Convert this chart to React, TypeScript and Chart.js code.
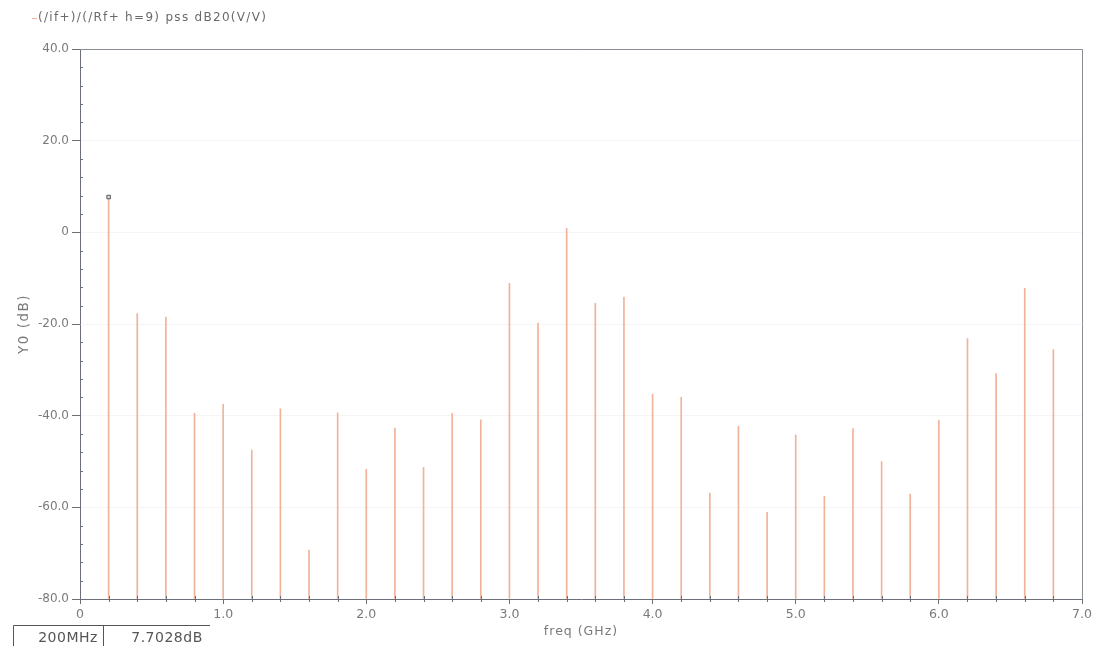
import React, { useEffect, useRef } from 'react';
import { Chart, registerables } from 'chart.js';

Chart.register(...registerables);

// Harmonic frequencies (GHz) of the PSS output spectrum
const harmonicFreqGHz = [
  0.2, 0.4, 0.6, 0.8, 1.0, 1.2, 1.4, 1.6, 1.8, 2.0, 2.2, 2.4, 2.6, 2.8, 3.0, 3.2, 3.4,
  3.6, 3.8, 4.0, 4.2, 4.4, 4.6, 4.8, 5.0, 5.2, 5.4, 5.6, 5.8, 6.0, 6.2, 6.4, 6.6, 6.8,
];

// Level of each harmonic (dB20 V/V)
const harmonicLevelDb = [
  7.7028, -17.7, -18.5, -39.5, -37.5, -47.5, -38.5, -69.3, -39.4, -51.7, -42.7, -51.3, -39.5, -40.9, -11.1, -19.8, 0.9,
  -15.5, -14.1, -35.3, -36.0, -56.9, -42.3, -61.1, -44.2, -57.6, -42.8, -50.0, -57.1, -41.0, -23.2, -30.8, -12.2, -25.6,
];

// Marker readout
const markerFreqGHz = [0.2];
const markerLevelDb = [7.7028];
const markerFreqText = '200MHz';
const markerLevelText = '7.7028dB';

const traceName = '(/if+)/(/Rf+ h=9) pss dB20(V/V)';
const xTitle = 'freq (GHz)';
const yTitle = 'Y0 (dB)';

const X_MIN = 0;
const X_MAX = 7;
const Y_MIN = -80;
const Y_MAX = 40;

const STEM_COLOR = '#f0b39a';
const AXIS_COLOR = '#6b6f7a';
const TEXT_COLOR = '#7a7a7a';
const FONT = '"DejaVu Sans", Verdana, sans-serif';

const fmt = (v: number) => (v === 0 ? '0' : v.toFixed(1));

// Frame, minor ticks, axis titles, trace legend and marker readout box
const decorations = {
  id: 'decorations',
  afterDraw(chart: any) {
    const { ctx, chartArea } = chart;
    const xs = chart.scales.x;
    const ys = chart.scales.y;
    const { left, right, top, bottom } = chartArea;
    ctx.save();

    // top and right frame
    ctx.strokeStyle = '#8a8d94';
    ctx.lineWidth = 1;
    ctx.beginPath();
    ctx.moveTo(left, top + 0.5);
    ctx.lineTo(right + 0.5, top + 0.5);
    ctx.lineTo(right + 0.5, bottom);
    ctx.stroke();

    // minor ticks on the y axis (every 4 dB)
    ctx.strokeStyle = AXIS_COLOR;
    ctx.beginPath();
    for (let v = Y_MIN + 4; v < Y_MAX; v += 4) {
      if (v % 20 === 0) continue;
      const y = Math.round(ys.getPixelForValue(v)) + 0.5;
      ctx.moveTo(left, y);
      ctx.lineTo(left + 3, y);
    }
    ctx.stroke();

    // minor ticks on the x axis (every 0.2 GHz)
    ctx.beginPath();
    for (let i = 1; i < 35; i++) {
      if (i % 5 === 0) continue;
      const x = Math.round(xs.getPixelForValue(i * 0.2)) + 0.5;
      ctx.moveTo(x, bottom - 3);
      ctx.lineTo(x, bottom + 3);
    }
    ctx.stroke();

    // axis titles
    ctx.fillStyle = TEXT_COLOR;
    ctx.textBaseline = 'middle';
    ctx.textAlign = 'center';
    ctx.font = `12.5px ${FONT}`;
    (ctx as any).letterSpacing = '1px';
    ctx.fillText(xTitle, (left + right) / 2, 632);
    ctx.save();
    ctx.translate(24, ys.getPixelForValue(-20));
    ctx.rotate(-Math.PI / 2);
    ctx.font = `13.5px ${FONT}`;
    (ctx as any).letterSpacing = '1.5px';
    ctx.fillText(yTitle, 0, 0);
    ctx.restore();

    // trace legend
    ctx.strokeStyle = STEM_COLOR;
    ctx.beginPath();
    ctx.moveTo(32, 18.5);
    ctx.lineTo(37, 18.5);
    ctx.stroke();
    ctx.font = `12px ${FONT}`;
    (ctx as any).letterSpacing = '1.3px';
    ctx.fillStyle = '#6a6a6a';
    ctx.textAlign = 'left';
    ctx.fillText(traceName, 38, 18);

    // marker readout box
    (ctx as any).letterSpacing = '0.5px';
    ctx.strokeStyle = '#555';
    ctx.beginPath();
    ctx.moveTo(13.5, 646);
    ctx.lineTo(13.5, 625.5);
    ctx.lineTo(210, 625.5);
    ctx.moveTo(103.5, 625.5);
    ctx.lineTo(103.5, 646);
    ctx.stroke();
    ctx.fillStyle = '#555';
    ctx.textAlign = 'center';
    ctx.font = `14px ${FONT}`;
    ctx.fillText(markerFreqText, 68, 638);
    ctx.fillText(markerLevelText, 167, 638);

    ctx.restore();
  },
};

export default function App() {
  const canvasRef = useRef<HTMLCanvasElement | null>(null);

  useEffect(() => {
    document.body.style.margin = '0';
    const canvas = canvasRef.current;
    if (!canvas) return;

    const chart = new Chart(canvas, {
      type: 'bar',
      data: {
        datasets: [
          {
            type: 'scatter',
            label: 'marker',
            data: markerFreqGHz.map((f, i) => ({ x: f, y: markerLevelDb[i] })),
            pointStyle: 'rect',
            pointRadius: 2.5,
            borderColor: '#5a5a5a',
            backgroundColor: '#d8d8d8',
            borderWidth: 1,
          } as any,
          {
            type: 'bar',
            label: traceName,
            data: harmonicFreqGHz.map((f, i) => ({ x: f, y: harmonicLevelDb[i] })),
            base: Y_MIN,
            barThickness: 1,
            grouped: false,
            backgroundColor: STEM_COLOR,
            borderWidth: 0,
          } as any,
        ],
      },
      options: {
        responsive: false,
        animation: false,
        events: [],
        layout: { padding: { left: 0, right: 18, top: 49, bottom: 0 } },
        plugins: {
          legend: { display: false },
          tooltip: { enabled: false },
        },
        scales: {
          x: {
            type: 'linear',
            min: X_MIN,
            max: X_MAX,
            offset: false,
            afterFit: (s: any) => {
              s.height = 47;
            },
            grid: {
              offset: false,
              drawOnChartArea: false,
              tickLength: 5,
              tickColor: AXIS_COLOR,
            },
            border: { display: true, color: AXIS_COLOR, width: 1 },
            ticks: {
              stepSize: 1,
              autoSkip: false,
              maxRotation: 0,
              padding: 3,
              color: TEXT_COLOR,
              font: { family: FONT, size: 12.5 },
              callback: (v: any) => fmt(Number(v)),
            },
          },
          y: {
            type: 'linear',
            min: Y_MIN,
            max: Y_MAX,
            afterFit: (s: any) => {
              s.width = 80;
            },
            grid: {
              color: '#f5f5f5',
              drawOnChartArea: true,
              tickLength: 8,
              tickColor: AXIS_COLOR,
            },
            border: { display: true, color: AXIS_COLOR, width: 1 },
            ticks: {
              stepSize: 20,
              padding: 3,
              color: TEXT_COLOR,
              font: { family: FONT, size: 12 },
              callback: (v: any) => fmt(Number(v)),
            },
          },
        },
      },
      plugins: [decorations],
    });

    return () => chart.destroy();
  }, []);

  return (
    <div style={{ width: 1100, height: 646, background: '#fff' }}>
      <canvas ref={canvasRef} width={1100} height={646} />
    </div>
  );
}
